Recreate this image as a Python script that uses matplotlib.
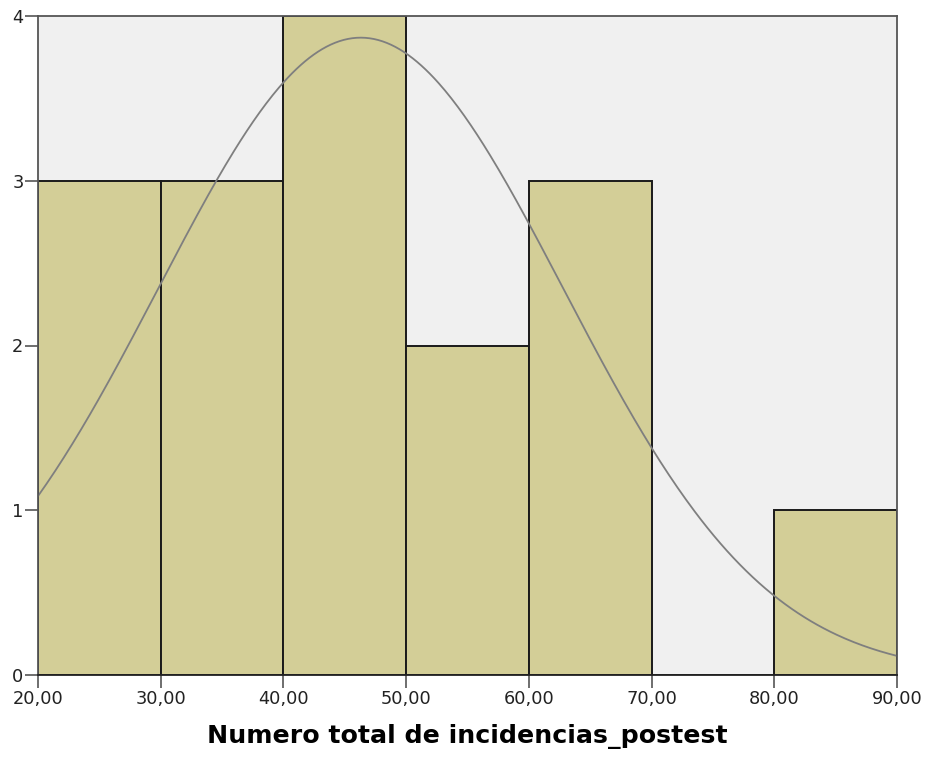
import numpy as np
import matplotlib
matplotlib.use("Agg")
import matplotlib.pyplot as plt

# Histogram counts of total incidences (post-test)
bin_edges = [20, 30, 40, 50, 60, 70, 80, 90]
counts = [3, 3, 4, 2, 3, 0, 1]

# Fitted normal curve parameters
n_total = 16
mean_value = 46.3
std_value = 16.5

x_ticks = [20, 30, 40, 50, 60, 70, 80, 90]
x_tick_labels = ["20,00", "30,00", "40,00", "50,00", "60,00", "70,00", "80,00", "90,00"]
y_ticks = [0, 1, 2, 3, 4]
x_label = "Numero total de incidencias_postest"

plt.rcParams["font.family"] = ["DejaVu Sans"]

fig = plt.figure(figsize=(9.28, 7.58), dpi=100)
ax = fig.add_axes([38 / 928, 83 / 758, 859 / 928, 659 / 758])
ax.set_facecolor("#F0F0F0")

widths = np.diff(bin_edges)
ax.bar(bin_edges[:-1], counts, width=widths, align="edge",
       color="#D3CE97", edgecolor="#1a1a1a", linewidth=1.4, zorder=2)

xs = np.linspace(bin_edges[0], bin_edges[-1], 400)
bw = widths[0]
ys = n_total * bw / (std_value * np.sqrt(2 * np.pi)) * np.exp(-0.5 * ((xs - mean_value) / std_value) ** 2)
ax.plot(xs, ys, color="#7f7f7f", linewidth=1.3, zorder=3)

ax.set_xlim(bin_edges[0], bin_edges[-1])
ax.set_ylim(0, 4)
ax.set_xticks(x_ticks)
ax.set_xticklabels(x_tick_labels)
ax.set_yticks(y_ticks)
ax.tick_params(axis="both", direction="out", length=9.5, width=1.2,
               color="#555555", labelsize=12.8, labelcolor="#222222", pad=1)

for side, spine in ax.spines.items():
    spine.set_color("#555555")
    spine.set_linewidth(1.3)
    spine.set_zorder(4)
ax.spines["bottom"].set_color("#222222")

ax.set_xlabel(x_label, fontsize=18.2, fontweight="bold", color="#000000", labelpad=12)

fig.savefig("out.png", dpi=100, facecolor="white")
